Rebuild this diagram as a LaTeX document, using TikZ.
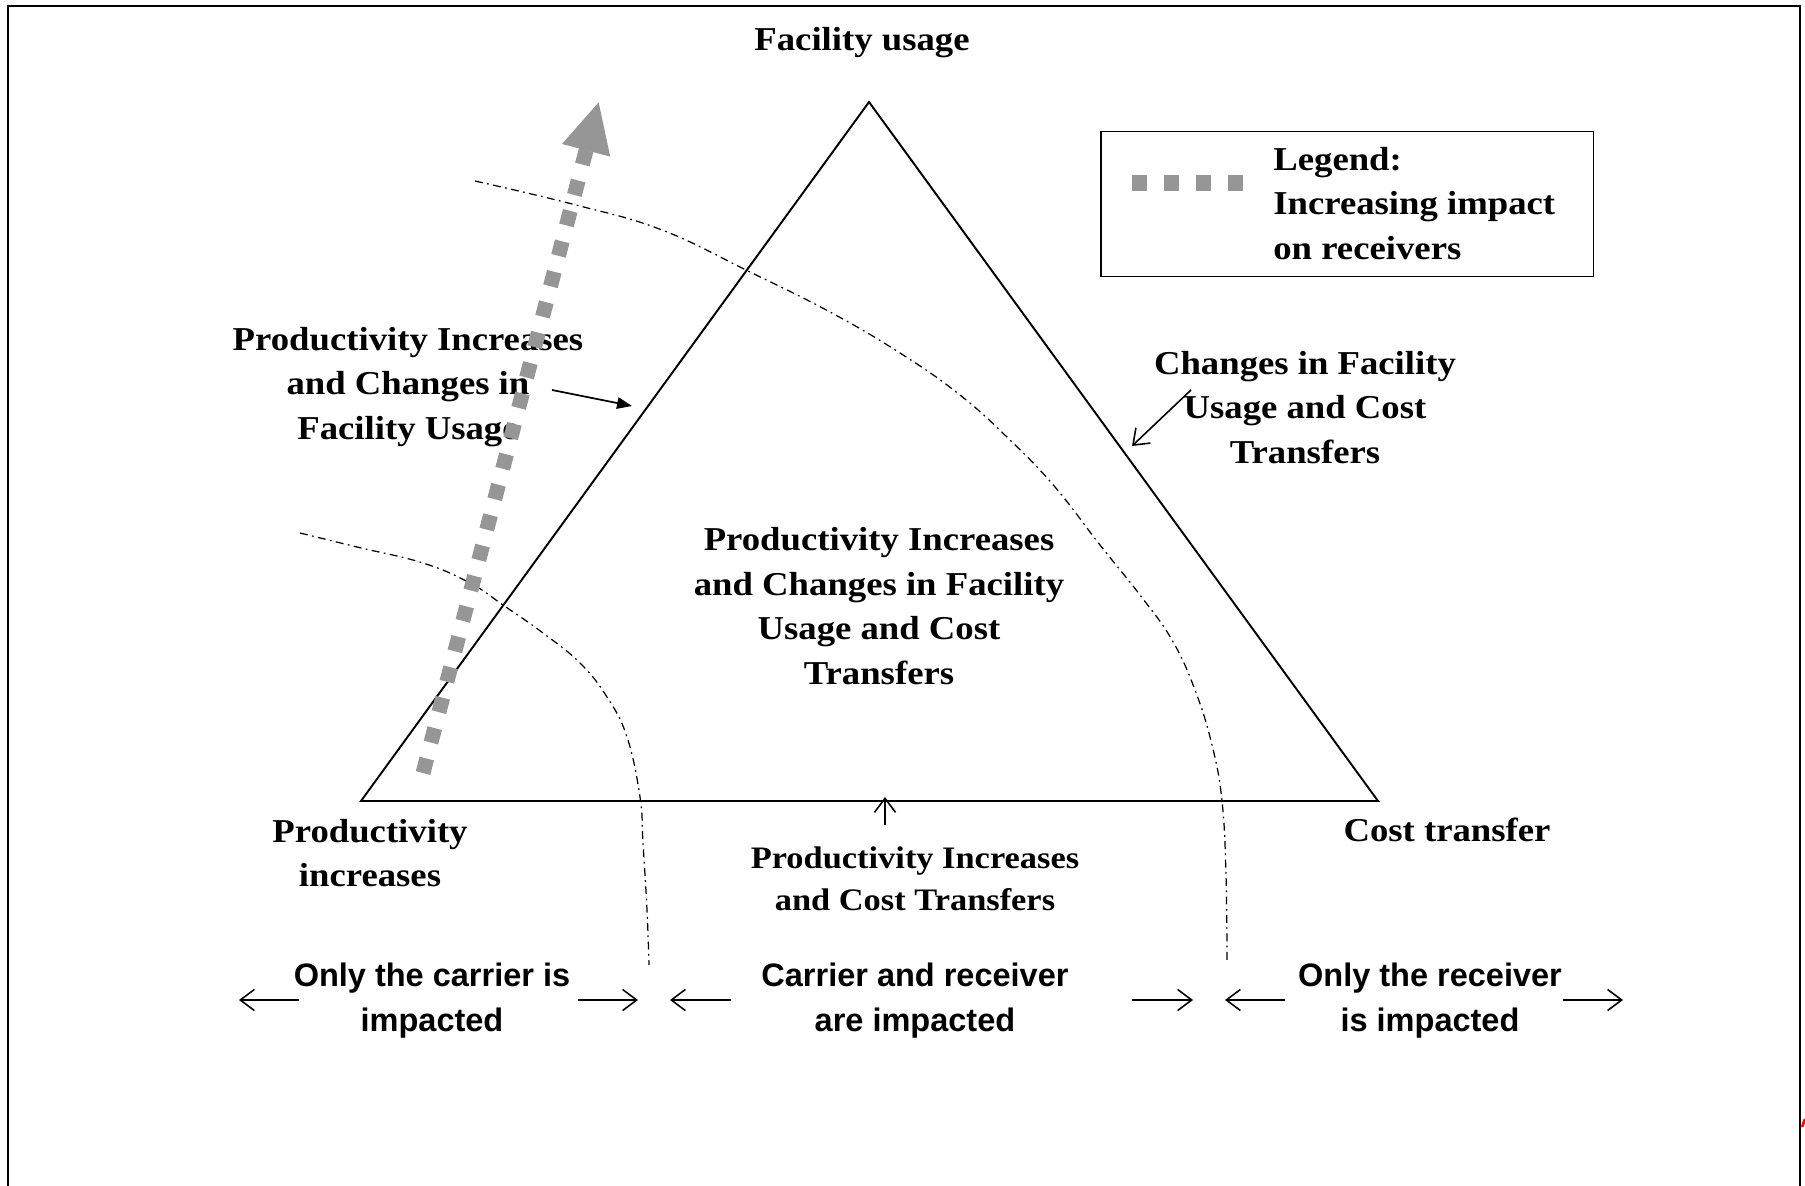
\documentclass[tikz,border=0pt]{standalone}
\usepackage{fontspec}
\setmainfont{Liberation Serif}[FakeStretch=1.1]
\setsansfont{Liberation Sans}
\usetikzlibrary{arrows.meta}
\definecolor{impactgray}{RGB}{150,150,150}

\begin{document}
\begin{tikzpicture} [x = 0.02cm, y = -0.02cm,
  lbl/.style = {align=center, inner sep=0pt, font=\bfseries\fontsize{19}{25.4}\selectfont},
  smalllbl/.style = {align=center, inner sep=0pt, font=\bfseries\fontsize{17.8}{23.6}\selectfont},
  sanslbl/.style = {align=center, inner sep=0pt, font=\sffamily\bfseries\fontsize{18.5}{25.6}\selectfont},
  side/.style = {line width=1.1pt},
  zone/.style = {line width=0.7pt, dash pattern=on 4.5pt off 2.5pt on 1pt off 2.5pt},
  barb/.style = {-{Straight Barb[length=8pt, width=12pt]}, line width=0.9pt},
  pointer/.style = {-{Triangle[length=8.5pt, width=6.5pt]}, line width=1pt},
  impact/.style = {impactgray, line width=8.5pt, dash pattern=on 8.5pt off 9.4pt, -{Triangle[length=29pt, width=26pt]}}
]
\useasboundingbox (0, 0) rectangle (1805, 1186);
\draw[side] (8, 1186) -- (8, 6) -- (1800, 6) -- (1800, 1186);
\draw[red, line width=1.5pt] (1802, 1127) -- (1805, 1119);

\coordinate (top) at (869, 102);
\coordinate (left) at (361, 801);
\coordinate (right) at (1378, 801);
\draw[side] (left) -- (top) -- (right) -- cycle;

\node[lbl] (fu) at (862, 43) {Facility usage};
\node[lbl] (pinc) at (370, 853) {Productivity\\increases};
\node[lbl] (cost) at (1447, 830) {Cost transfer};
\node[lbl] (all) at (879, 606) {Productivity Increases\\and Changes in Facility\\Usage and Cost\\Transfers};
\node[lbl] (pifu) at (408, 387) {Productivity Increases\\and Changes in\\Facility Usage};
\node[lbl] (fuct) at (1305, 407.5) {Changes in Facility\\Usage and Cost\\Transfers};
\node[smalllbl] (pict) at (915, 879) {Productivity Increases\\and Cost Transfers};

\node[draw, side, minimum width=9.86cm, minimum height=2.9cm] (legend) at (1347, 204) {};
\node[lbl, align=left, anchor=west] (legtxt) at (1273, 203.5) {Legend:\\Increasing impact\\on receivers};
\coordinate (lg0) at (1132, 183);
\coordinate (lg1) at (1243, 183);
\draw[impactgray, line width=8.8pt, dash pattern=on 8.54pt off 9.67pt] (lg0) -- (lg1);

\draw[zone] plot[smooth, tension=0.7] coordinates {(475, 181) (576, 205) (662, 230) (748, 271) (830, 312) (900, 353) (960, 395) (1010, 440) (1055, 487) (1100, 545) (1140, 595) (1172, 640) (1195, 690) (1212, 745) (1222, 801) (1226, 875) (1227, 961)};
\draw[zone] plot[smooth, tension=0.7] coordinates {(300, 533) (357, 547) (423, 563) (470, 583) (503, 605) (543, 633) (580, 663) (607, 697) (627, 737) (640, 797) (643, 843) (647, 910) (649, 965)};

\coordinate (imp0) at (423, 773);
\coordinate (imp1) at (599, 101);
\draw[impact] (imp0) -- (imp1);

\coordinate (p1) at (552, 390);
\coordinate (p2) at (632, 406);
\draw[pointer] (p1) -- (p2);
\coordinate (c1) at (1191, 390);
\coordinate (c2) at (1132, 446);
\draw[barb] (c1) -- (c2);
\coordinate (b1) at (885, 825);
\coordinate (b2) at (885, 797);
\draw[barb] (b1) -- (b2);

\node[sanslbl] (carrier) at (432, 1001) {Only the carrier is\\impacted};
\node[sanslbl] (both) at (915, 1001) {Carrier and receiver\\are impacted};
\node[sanslbl] (receiver) at (1430, 1001) {Only the receiver\\is impacted};
\coordinate (a1) at (299, 1000);
\coordinate (a2) at (239, 1000);
\coordinate (a3) at (578, 1000);
\coordinate (a4) at (638, 1000);
\coordinate (a5) at (731, 1000);
\coordinate (a6) at (670, 1000);
\coordinate (a7) at (1132, 1000);
\coordinate (a8) at (1193, 1000);
\coordinate (a9) at (1285, 1000);
\coordinate (a10) at (1225, 1000);
\coordinate (a11) at (1563, 1000);
\coordinate (a12) at (1623, 1000);
\draw[barb] (a1) -- (a2);
\draw[barb] (a3) -- (a4);
\draw[barb] (a5) -- (a6);
\draw[barb] (a7) -- (a8);
\draw[barb] (a9) -- (a10);
\draw[barb] (a11) -- (a12);
\end{tikzpicture}
\end{document}
